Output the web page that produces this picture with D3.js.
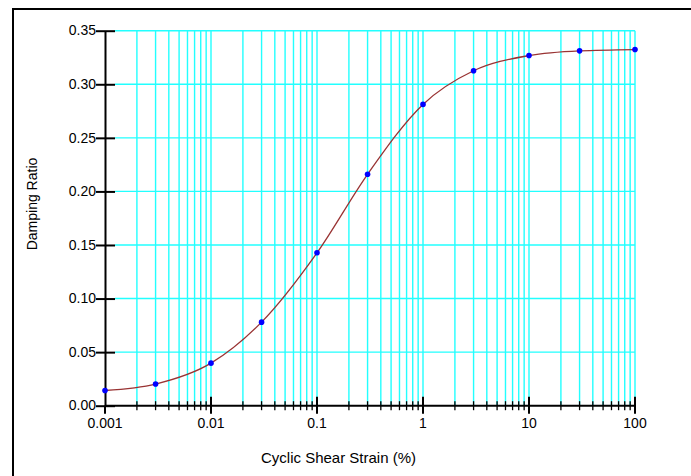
<!DOCTYPE html>
<html>
<head>
<meta charset="utf-8">
<script src="https://cdn.jsdelivr.net/npm/d3@7"></script>
<style>
body { margin: 0; background: #fff; }
text { font-family: "Liberation Sans", Arial, sans-serif; fill: #000; }
</style>
</head>
<body>
<div id="chart"></div>
<script>
// data
const strain = [0.001, 0.003, 0.01, 0.03, 0.1, 0.3, 1, 3, 10, 30, 100];
const damping = [0.0142, 0.0202, 0.0397, 0.078, 0.1427, 0.216, 0.2812, 0.3126, 0.3268, 0.3312, 0.3324];
const yTicks = [0, 0.05, 0.10, 0.15, 0.20, 0.25, 0.30, 0.35];
const xMajor = [0.001, 0.01, 0.1, 1, 10, 100];
const xLabels = ["0.001", "0.01", "0.1", "1", "10", "100"];

const width = 691;
const height = 476;
const padLeft = 105, padRight = 635, padTop = 30.7, padBottom = 405.7;

const svg = d3.select('#chart').append('svg')
    .attr('width', width)
    .attr('height', height);

// outer frame (only left + top edges inside the picture)
svg.append('path')
    .attr('d', 'M13,' + height + 'V9H' + width)
    .attr('fill', 'none')
    .attr('stroke', '#000')
    .attr('stroke-width', 2);

const x = d3.scaleLog().domain([0.001, 100]).range([padLeft, padRight]);
const y = d3.scaleLinear().domain([0, 0.35]).range([padBottom, padTop]);

const xMinor = x.ticks();

// grid
svg.append('g').selectAll('line')
    .data(xMinor.filter(d => d > 0.001))
    .enter().append('line')
    .attr('x1', d => x(d)).attr('x2', d => x(d))
    .attr('y1', y(0.35)).attr('y2', y(0))
    .attr('stroke', '#22ffff')
    .attr('stroke-width', 1.4);

svg.append('g').selectAll('line')
    .data(yTicks.filter(d => d > 0))
    .enter().append('line')
    .attr('x1', x(0.001) + 10).attr('x2', x(100))
    .attr('y1', d => y(d)).attr('y2', d => y(d))
    .attr('stroke', '#22ffff')
    .attr('stroke-width', 1.4);

// y axis
const yAxis = svg.append('g')
    .attr('transform', 'translate(' + padLeft + ',0)')
    .call(d3.axisLeft(y).tickValues(yTicks).tickFormat(d3.format('.2f')).tickSize(9).tickPadding(0).tickSizeOuter(0));
yAxis.select('.domain').attr('stroke-width', 2);
yAxis.selectAll('.tick line').attr('x1', 10).attr('stroke-width', 2);
yAxis.selectAll('.tick text').attr('font-size', 14).attr('font-family', '"Liberation Sans", Arial, sans-serif').attr('dy', '0.3em');

// x axis: minor ticks
const xAxis = svg.append('g')
    .attr('transform', 'translate(0,' + padBottom + ')');
xAxis.append('line')
    .attr('x1', padLeft).attr('x2', padRight)
    .attr('stroke', '#000').attr('stroke-width', 2);
xAxis.selectAll('.minor')
    .data(xMinor.filter(d => xMajor.indexOf(d) < 0))
    .enter().append('line')
    .attr('x1', d => x(d)).attr('x2', d => x(d))
    .attr('y1', -4.5).attr('y2', 4.5)
    .attr('stroke', '#000').attr('stroke-width', 1.3);
xAxis.selectAll('.major')
    .data(xMajor)
    .enter().append('line')
    .attr('x1', d => x(d)).attr('x2', d => x(d))
    .attr('y1', (d, i) => i == 0 ? 0 : -9).attr('y2', 8)
    .attr('stroke', '#000').attr('stroke-width', 2);
xAxis.selectAll('text')
    .data(xMajor)
    .enter().append('text')
    .attr('x', d => x(d))
    .attr('y', 22)
    .attr('text-anchor', 'middle')
    .attr('font-size', 14)
    .text((d, i) => xLabels[i]);

// curve + points
const pts = strain.map((d, i) => [d, damping[i]]);
svg.append('path')
    .datum(pts)
    .attr('d', d3.line().x(d => x(d[0])).y(d => y(d[1])).curve(d3.curveMonotoneX))
    .attr('fill', 'none')
    .attr('stroke', '#993333')
    .attr('stroke-width', 1.3);

svg.append('g').selectAll('circle')
    .data(pts)
    .enter().append('circle')
    .attr('cx', d => x(d[0]))
    .attr('cy', d => y(d[1]))
    .attr('r', 2.8)
    .attr('fill', '#0000ff');

// titles
svg.append('text')
    .attr('x', 338.5).attr('y', 463)
    .attr('text-anchor', 'middle')
    .attr('font-size', 15)
    .text('Cyclic Shear Strain (%)');

svg.append('text')
    .attr('transform', 'translate(37,204) rotate(-90)')
    .attr('text-anchor', 'middle')
    .attr('font-size', 14)
    .text('Damping Ratio');
</script>
</body>
</html>
